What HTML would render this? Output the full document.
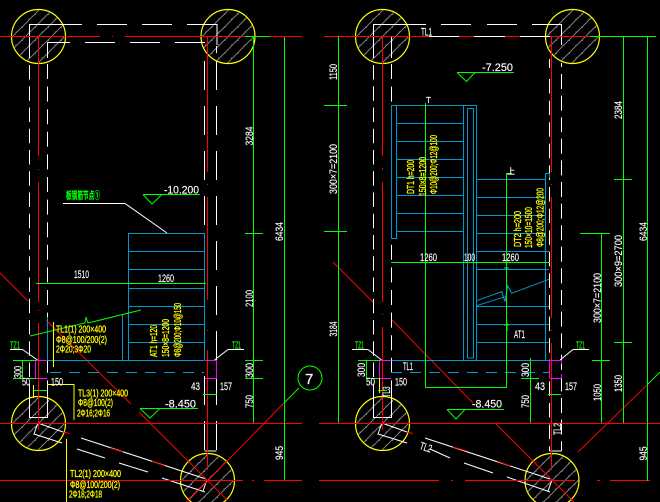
<!DOCTYPE html>
<html><head><meta charset="utf-8"><style>
html,body{margin:0;padding:0;background:#000;width:660px;height:502px;overflow:hidden}
svg{display:block}
text{font-family:"Liberation Sans","Noto Sans CJK SC",sans-serif;font-size:11px}
.w{fill:#fff;stroke:#fff;stroke-width:.15}.y{fill:#ff0;font-size:10px;stroke:#ff0;stroke-width:.3}.g{fill:#0f0;font-size:10px;stroke:#0f0;stroke-width:.2}
.v{text-anchor:middle}
</style></head><body>
<svg width="660" height="502" viewBox="0 0 660 502" xmlns="http://www.w3.org/2000/svg">
<defs>
<pattern id="h" width="13" height="13" patternUnits="userSpaceOnUse">
<path d="M-1 14L14 -1M-1 1L1 -1M12 14L14 12" stroke="#8c8c8c" stroke-width="0.9" fill="none"/>
<rect x="3" y="8" width="1.5" height="1.5" fill="#777"/><rect x="9" y="3" width="1.5" height="1.5" fill="#777"/>
</pattern>
<g id="c"><circle r="27" fill="#000"/><circle r="27" fill="url(#h)" stroke="#ff0" stroke-width="1.2"/></g>
</defs>
<rect width="660" height="502" fill="#000"/>
<use href="#c" x="38.5" y="36.5"/><use href="#c" x="228" y="36.5"/><use href="#c" x="38.5" y="423.5"/><use href="#c" x="207.5" y="480.5"/>
<use href="#c" x="382.5" y="36.5"/><use href="#c" x="572.5" y="36.5"/><use href="#c" x="382.5" y="423.5"/><use href="#c" x="552" y="480.5"/>

<g fill="none" stroke="#fff" stroke-width="1">
<path d="M29.5 58V24.5H82M52 24.5H82M97 24.5H127M142 24.5H172M187 24.5H217V45M47.5 58V42.5H70M85 42.5H115M130 42.5H160M175 42.5H205"/>
<path d="M29.5 65V395" stroke-dasharray="14.5 6.75"/>
<path d="M47.5 64V395" stroke-dasharray="15 7.6"/>
<path d="M204.5 61V451M216.5 61V451" stroke-dasharray="29 16"/>
<path d="M216.5 46V53"/>
<path d="M373.5 58V24.5H426M441 24.5H471M487 24.5H517M532 24.5H561.5V45M391.5 58V36.5H459M474 36.5H505M520 36.5H561"/>
<path d="M373.5 65V395" stroke-dasharray="14.5 6.75"/>
<path d="M391.5 64V395" stroke-dasharray="15 7.6"/>
<path d="M549.5 79V451" stroke-dasharray="14.5 7.1"/>
<path d="M549.5 59V68"/>
<path d="M561.5 74V451" stroke-dasharray="15 6.6"/>
<path d="M561.5 63V67"/>
<path d="M29.5 395V417.5H47.5V395M373.5 395V417.5H391.5V395M204.5 451H216.5M549.5 451H561.5"/>
<path d="M63 203.5H125M10 349.5H22.5M244 349.5H228M352 349.5H368M589 349.5H573"/>
<path d="M125 203.5L167 233M22.5 349.5L37.5 360M228 349.5L214.5 360M368 349.5L381.5 360M573 349.5L560 360"/>
<path d="M38 423L63 432M38 423L34 434L62 443M81 438L206 479M77 449L105 458M119 463L148 472M162 478L205 492M207 480L203 491"/>
<path d="M382 423L407 432M382 423L378 434L407 443M425 438L550 479M430 449L450 458M464 463L493 473M507 477L550 492M552 480L548 491"/>
</g>

<g fill="none" stroke="#f00" stroke-width="1">
<path d="M0 36.5H100M112 36.5h1M125 36.5H302M324 36.5H429M459 36.5H474M505 36.5H520M550 36.5H590"/>
<path d="M0 423.5H302M319 423.5H660"/>
<path d="M0 480.5H243M252 480.5h2M264 480.5H302M319 480.5H439M451 480.5h2M465 480.5H575M597 480.5h3M610 480.5H650"/>
<path d="M38.5 36V156M38.5 169v1M38.5 182V302M38.5 310v1M38.5 323V430"/>
<path d="M207.5 36V172M207.5 184v1M207.5 197V300M207.5 330v1M207.5 350V470"/>
<path d="M382.5 36V156M382.5 168v2M382.5 182V302M382.5 314v1M382.5 327V430"/>
<path d="M551.5 36V172M551.5 184v1M551.5 197V318M551.5 330v1M551.5 343V470"/>
<path d="M0 273L28 301M46 320L131 404M139 412L227 500M284 403L187 502M333 262L373 302M392 320L473 403M496 424L574 502M578 452L647 385"/>
<path d="M63 432L70 433.5M407 432L413 433.5M110 448L123 452M152 461L165 466M453 447L467 451M497 461L510 466"/>
</g>

<g fill="none" stroke="#0099d0" stroke-width="1">
<path d="M128.5 360V233.5H204.5V360M128.5 251.5H204.5M128.5 269.5H204.5M128.5 288.5H204.5M128.5 306.5H204.5M128.5 324.5H204.5M128.5 342.5H204.5M47.5 317V360.5M122.5 315V360.5M47.5 360.5H204.5"/>
<path d="M50 372.5H204" stroke-dasharray="11 8"/>
<path d="M391.5 238.5V105.5H476.5V360.5M396.5 105.5V238.5H391.5M463.5 105.5V360.5M467.5 358V108.5H473.5V358H467.5"/>
<path d="M396 123.5H463M396 141.5H463M396 159.5H463M396 177.5H463M396 195.5H463M396 213.5H463M396 231.5H463"/>
<path d="M477 179.5H545M477 197.5H545M477 215.5H545M477 233.5H545M477 251.5H549M477 269.5H549M477 306.5H549M477 324.5H549M477 342.5H549"/>
<path d="M545.5 360V173.5H549.5V178M391.5 360.5H549"/>
<path d="M391 372.5H549" stroke-dasharray="11 8"/>
<path d="M476.7 300.7L501.7 291.7L505 301.7L507.7 285.7L511.7 293.3L549 279.3M476.7 305.7L505 296.7"/>
</g>

<g fill="none" stroke="#f0f" stroke-width="1">
<path d="M35.5 378V360.5H47M35.5 378.5H47M205 360.5H216.5V378.5H205"/>
<path d="M379.5 378.5V360.5H391M379.5 378.5H391M549.5 360.5H561.5M549.5 378.5H561.5M549.5 360V378M561.5 360V364M561.5 374V378"/>
</g>

<g fill="none" stroke="#0f0" stroke-width="1">
<path d="M253.5 37V423M284.5 37V480M245 36.5H270M245 233.5H263M245 360.5H263M245 378.5H263M36 283.5H206M143 194.5H200M140 408.5H198"/>
<path d="M13 360.5H36M13 378.5H36M22.5 360V378M203 394.5H217M33 390.5H47"/>
<path d="M338.5 36V423M324 105.5H347M324 231.5H347"/>
<path d="M457 72.5H514M447 409.5H504M391 262.5H550M425.5 103V387.5H506.5V173.5H512"/>
<path d="M623.5 36V423M647.5 36V481M601.5 233V423M590 36.5H656M614 179.5H632M580 233.5H610M614 342.5H632M592 360.5H610"/>
<path d="M530.5 358V423M521 378.5H539M358 360.5H380M366 378.5H380M366.5 360V378M548 394.5H561M378 390.5H387"/>
<path d="M143 194.5L152 204L162 194.5M140 408.5L150 418L160 408.5M457 72.5L466.5 81.5L475 72.5M447 409.5L456 419L465 409.5"/>
<path d="M30 336L85 323L86 317L88 323L141 310"/>
<path d="M299 388L284 403M647 385L660 372"/>
<circle cx="310" cy="378" r="12"/>
<path d="M506.5 265V275M504 268H509M507 322V331M504 325H509"/>
</g>
<g fill="none" stroke="#ff0" stroke-width="1">
<path d="M53.5 322V367M47 384.5H74V420M66.5 439V502M379.5 378V393M33.5 385V398"/>
</g>

<text class="w" x="74" y="278" textLength="15" lengthAdjust="spacingAndGlyphs">1510</text>
<text class="w" x="158" y="282" textLength="16" lengthAdjust="spacingAndGlyphs">1260</text>
<text class="w" x="164" y="193.5" textLength="35" lengthAdjust="spacingAndGlyphs">-10.200</text>
<text class="w" x="165" y="407.5" textLength="31" lengthAdjust="spacingAndGlyphs">-8.450</text>
<text class="w" x="191" y="390" textLength="9" lengthAdjust="spacingAndGlyphs">43</text>
<text class="w" x="220" y="390" textLength="12" lengthAdjust="spacingAndGlyphs">157</text>
<text class="w" x="22" y="385.5" textLength="8" lengthAdjust="spacingAndGlyphs">50</text>
<text class="w" x="51" y="385.5" textLength="12" lengthAdjust="spacingAndGlyphs">150</text>
<text class="w" x="421" y="35.5" textLength="11" lengthAdjust="spacingAndGlyphs">TL1</text>
<text class="w" x="482" y="71" textLength="31" lengthAdjust="spacingAndGlyphs">-7.250</text>
<text class="w" x="420" y="261" textLength="17" lengthAdjust="spacingAndGlyphs">1260</text>
<text class="w" x="464" y="261" textLength="11" lengthAdjust="spacingAndGlyphs">100</text>
<text class="w" x="502" y="261" textLength="17" lengthAdjust="spacingAndGlyphs">1260</text>
<text class="w" x="514" y="338" textLength="11" lengthAdjust="spacingAndGlyphs">AT1</text>
<text class="w" x="403" y="370" textLength="10" lengthAdjust="spacingAndGlyphs">TL1</text>
<text class="w" x="472" y="407.5" textLength="30" lengthAdjust="spacingAndGlyphs">-8.450</text>
<text class="w" x="366" y="385.5" textLength="9" lengthAdjust="spacingAndGlyphs">50</text>
<text class="w" x="395" y="385.5" textLength="12" lengthAdjust="spacingAndGlyphs">150</text>
<text class="w" x="535" y="390" textLength="10" lengthAdjust="spacingAndGlyphs">43</text>
<text class="w" x="565" y="390" textLength="12" lengthAdjust="spacingAndGlyphs">157</text>
<text class="w" x="426" y="103" style="font-size:8px">T</text>
<text class="w" x="507" y="174" style="font-size:8px">上</text>
<text class="w" x="419" y="449" textLength="12" lengthAdjust="spacingAndGlyphs" transform="rotate(18 419 449)">TL2</text>
<text x="305" y="384" class="w" style="font-size:15px">7</text>

<text class="g" x="66" y="199" textLength="34" lengthAdjust="spacingAndGlyphs" style="font-weight:bold">板钢筋节点①</text>
<text class="g" x="10" y="348.5" textLength="10" lengthAdjust="spacingAndGlyphs">TZ1</text>
<text class="g" x="232" y="348.5" textLength="9" lengthAdjust="spacingAndGlyphs">TZ1</text>
<text class="g" x="355" y="348.5" textLength="9" lengthAdjust="spacingAndGlyphs">TZ1</text>
<text class="g" x="576" y="348.5" textLength="9" lengthAdjust="spacingAndGlyphs">TZ1</text>

<text class="y" x="56" y="332.5" textLength="50" lengthAdjust="spacingAndGlyphs">TL1(1) 200×400</text>
<text class="y" x="56" y="343" textLength="51" lengthAdjust="spacingAndGlyphs">Φ8@100/200(2)</text>
<text class="y" x="56" y="352.5" textLength="35" lengthAdjust="spacingAndGlyphs">2Φ20;3Φ20</text>
<text class="y" x="78" y="396.5" textLength="50" lengthAdjust="spacingAndGlyphs">TL3(1) 200×400</text>
<text class="y" x="78" y="406" textLength="35" lengthAdjust="spacingAndGlyphs">Φ8@100(2)</text>
<text class="y" x="77" y="416.5" textLength="33" lengthAdjust="spacingAndGlyphs">2Φ16;2Φ16</text>
<text class="y" x="70" y="477" textLength="51" lengthAdjust="spacingAndGlyphs">TL2(1) 200×400</text>
<text class="y" x="70" y="488" textLength="50" lengthAdjust="spacingAndGlyphs">Φ8@100/200(2)</text>
<text class="y" x="69" y="497.5" textLength="33" lengthAdjust="spacingAndGlyphs">2Φ18;2Φ18</text>

<text class="y" transform="translate(157 357) rotate(-90)" textLength="32" lengthAdjust="spacingAndGlyphs">AT1 h=120</text>
<text class="y" transform="translate(169 357) rotate(-90)" textLength="38" lengthAdjust="spacingAndGlyphs">150×8=1200</text>
<text class="y" transform="translate(181 357) rotate(-90)" textLength="54" lengthAdjust="spacingAndGlyphs">Φ8@200;Φ10@150</text>
<text class="y" transform="translate(414 194) rotate(-90)" textLength="34" lengthAdjust="spacingAndGlyphs">DT1 h=200</text>
<text class="y" transform="translate(426 196) rotate(-90)" textLength="39" lengthAdjust="spacingAndGlyphs">150×8=1200</text>
<text class="y" transform="translate(437 194) rotate(-90)" textLength="59" lengthAdjust="spacingAndGlyphs">Φ10@200;Φ12@100</text>
<text class="y" transform="translate(521 247) rotate(-90)" textLength="36" lengthAdjust="spacingAndGlyphs">DT2 h=200</text>
<text class="y" transform="translate(532 248) rotate(-90)" textLength="41" lengthAdjust="spacingAndGlyphs">150×10=1500</text>
<text class="y" transform="translate(543.5 247) rotate(-90)" textLength="59" lengthAdjust="spacingAndGlyphs">Φ8@200;Φ12@200</text>

<text class="w v" transform="translate(253 136) rotate(-90)" textLength="19" lengthAdjust="spacingAndGlyphs">3284</text>
<text class="w v" transform="translate(283 231.5) rotate(-90)" textLength="19" lengthAdjust="spacingAndGlyphs">6434</text>
<text class="w v" transform="translate(253 298.5) rotate(-90)" textLength="17" lengthAdjust="spacingAndGlyphs">2100</text>
<text class="w v" transform="translate(253 370.5) rotate(-90)" textLength="15" lengthAdjust="spacingAndGlyphs">300</text>
<text class="w v" transform="translate(253 401.5) rotate(-90)" textLength="13" lengthAdjust="spacingAndGlyphs">750</text>
<text class="w v" transform="translate(283 453) rotate(-90)" textLength="14" lengthAdjust="spacingAndGlyphs">945</text>
<text class="w v" transform="translate(21.5 372) rotate(-90)" textLength="12" lengthAdjust="spacingAndGlyphs">300</text>
<text class="w v" transform="translate(337 72) rotate(-90)" textLength="16" lengthAdjust="spacingAndGlyphs">1150</text>
<text class="w v" transform="translate(337 169) rotate(-90)" textLength="50" lengthAdjust="spacingAndGlyphs">300×7=2100</text>
<text class="w v" transform="translate(337 329) rotate(-90)" textLength="15" lengthAdjust="spacingAndGlyphs">3184</text>
<text class="w v" transform="translate(622 110) rotate(-90)" textLength="18" lengthAdjust="spacingAndGlyphs">2384</text>
<text class="w v" transform="translate(647 231.5) rotate(-90)" textLength="19" lengthAdjust="spacingAndGlyphs">6434</text>
<text class="w v" transform="translate(622 261) rotate(-90)" textLength="52" lengthAdjust="spacingAndGlyphs">300×9=2700</text>
<text class="w v" transform="translate(601 298) rotate(-90)" textLength="50" lengthAdjust="spacingAndGlyphs">300×7=2100</text>
<text class="w v" transform="translate(601 392.5) rotate(-90)" textLength="17" lengthAdjust="spacingAndGlyphs">1050</text>
<text class="w v" transform="translate(622 383.5) rotate(-90)" textLength="17" lengthAdjust="spacingAndGlyphs">1350</text>
<text class="w v" transform="translate(647 453.5) rotate(-90)" textLength="14" lengthAdjust="spacingAndGlyphs">945</text>
<text class="w v" transform="translate(529 370) rotate(-90)" textLength="14" lengthAdjust="spacingAndGlyphs">300</text>
<text class="w v" transform="translate(529 401.5) rotate(-90)" textLength="13" lengthAdjust="spacingAndGlyphs">750</text>
<text class="w v" transform="translate(365 370) rotate(-90)" textLength="14" lengthAdjust="spacingAndGlyphs">300</text>
<text class="w v" transform="translate(390 392) rotate(-90)" textLength="11" lengthAdjust="spacingAndGlyphs">TL3</text>
<text class="w v" transform="translate(561 429) rotate(-90)" textLength="12" lengthAdjust="spacingAndGlyphs">TL2</text>
</svg>
</body></html>
